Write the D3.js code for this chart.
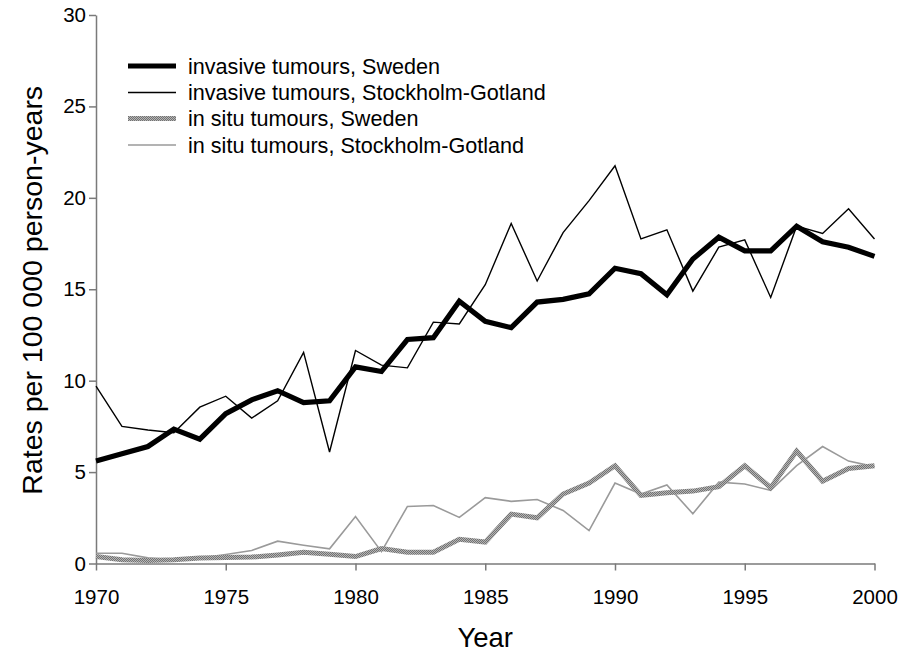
<!DOCTYPE html>
<html>
<head>
<meta charset="utf-8">
<script src="https://cdn.jsdelivr.net/npm/d3@7/dist/d3.min.js"></script>
<style>
  html, body { margin: 0; padding: 0; background: #fff; }
  svg { display: block; font-family: "Liberation Sans", Arial, sans-serif; }
</style>
</head>
<body>
<svg id="chart" width="901" height="656"></svg>
<script>
// Incidence rates per 100 000 person-years, 1970–2000
const years = d3.range(1970, 2001);

const invasiveSweden = [5.6, 6.0, 6.4, 7.35, 6.8, 8.2, 8.95, 9.45, 8.8, 8.9,
  10.75, 10.5, 12.25, 12.35, 14.35, 13.25, 12.9, 14.3, 14.45, 14.75,
  16.15, 15.85, 14.7, 16.65, 17.85, 17.1, 17.1, 18.45, 17.6, 17.3, 16.8];

const invasiveStockholm = [9.7, 7.5, 7.3, 7.15, 8.55, 9.15, 7.95, 8.9, 11.55, 6.1,
  11.65, 10.85, 10.7, 13.2, 13.1, 15.25, 18.6, 15.45, 18.1, 19.85,
  21.75, 17.75, 18.25, 14.9, 17.3, 17.7, 14.55, 18.45, 18.05, 19.4, 17.75];

const inSituSweden = [0.38, 0.2, 0.16, 0.2, 0.3, 0.33, 0.35, 0.47, 0.62, 0.5,
  0.38, 0.82, 0.62, 0.62, 1.32, 1.17, 2.7, 2.5, 3.8, 4.4,
  5.35, 3.72, 3.87, 3.96, 4.2, 5.35, 4.15, 6.15, 4.5, 5.2, 5.35];

const inSituStockholm = [0.56, 0.56, 0.31, 0.2, 0.3, 0.49, 0.71, 1.22, 1.0, 0.8,
  2.57, 0.65, 3.12, 3.17, 2.52, 3.6, 3.4, 3.5, 2.9, 1.8,
  4.4, 3.8, 4.3, 2.72, 4.45, 4.35, 4.0, 5.35, 6.4, 5.6, 5.3];

const xTicks = [1970, 1975, 1980, 1985, 1990, 1995, 2000];
const yTicks = [0, 5, 10, 15, 20, 25, 30];

const seriesNames = [
  "invasive tumours, Sweden",
  "invasive tumours, Stockholm-Gotland",
  "in situ tumours, Sweden",
  "in situ tumours, Stockholm-Gotland"
];

const svg = d3.select("#chart");

// checkered grey used for the in situ (Sweden) stroke
const defs = svg.append("defs");
const pat = defs.append("pattern")
  .attr("id", "checker").attr("patternUnits", "userSpaceOnUse")
  .attr("width", 2).attr("height", 2);
pat.append("rect").attr("width", 2).attr("height", 2).attr("fill", "#b5b5b5");
pat.append("rect").attr("x", 0).attr("y", 0).attr("width", 1).attr("height", 1).attr("fill", "#727272");
pat.append("rect").attr("x", 1).attr("y", 1).attr("width", 1).attr("height", 1).attr("fill", "#727272");

const x = d3.scaleLinear().domain([1970, 2000]).range([96, 874.5]);
const y = d3.scaleLinear().domain([0, 30]).range([563.5, 15]);

const axisColor = "#7a7a7a";
const font = "Liberation Sans, Arial, sans-serif";

// x axis
const gx = svg.append("g").attr("transform", `translate(0,${y(0)})`)
  .call(d3.axisBottom(x).tickValues(xTicks).tickFormat(d3.format("d"))
    .tickSizeInner(7).tickSizeOuter(0).tickPadding(19));
gx.select(".domain").attr("stroke", axisColor).attr("stroke-width", 1.5);
gx.selectAll(".tick line").attr("stroke", axisColor).attr("stroke-width", 1.5);
gx.selectAll(".tick text").attr("fill", "#000").attr("font-size", 20.5)
  .attr("font-family", font);

// y axis
const gy = svg.append("g").attr("transform", `translate(${x(1970)},0)`)
  .call(d3.axisLeft(y).tickValues(yTicks).tickFormat(d3.format("d"))
    .tickSizeInner(7).tickSizeOuter(0).tickPadding(3));
gy.select(".domain").attr("stroke", axisColor).attr("stroke-width", 1.5);
gy.selectAll(".tick line").attr("stroke", axisColor).attr("stroke-width", 1.5);
gy.selectAll(".tick text").attr("fill", "#000").attr("font-size", 20.5)
  .attr("font-family", font);

// axis titles
svg.append("text").attr("x", (x(1970) + x(2000)) / 2).attr("y", 647)
  .attr("text-anchor", "middle").attr("font-size", 27.5).text("Year");
svg.append("text")
  .attr("transform", `translate(42,${(y(0) + y(30)) / 2 + 1}) rotate(-90)`)
  .attr("text-anchor", "middle").attr("font-size", 28.5)
  .text("Rates per 100 000 person-years");

const line = d3.line().x((d, i) => x(years[i])).y(d => y(d));

const styles = [
  { data: invasiveSweden,    stroke: "#000",          width: 5.2 },
  { data: invasiveStockholm, stroke: "#000",          width: 1.4 },
  { data: inSituSweden,      stroke: "url(#checker)", width: 5 },
  { data: inSituStockholm,   stroke: "#9a9a9a",       width: 1.6 }
];

// in situ drawn first, invasive on top
[3, 2, 1, 0].forEach(k => {
  const s = styles[k];
  svg.append("path").datum(s.data)
    .attr("fill", "none").attr("stroke", s.stroke)
    .attr("stroke-width", s.width).attr("stroke-linejoin", "miter")
    .attr("d", line);
});

// legend
const legend = svg.append("g");
const rowY = [66, 92.5, 118.5, 145];
seriesNames.forEach((name, k) => {
  const s = styles[k];
  legend.append("line").attr("x1", 128).attr("x2", 176)
    .attr("y1", rowY[k]).attr("y2", rowY[k])
    .attr("stroke", s.stroke).attr("stroke-width", k === 3 ? 1.4 : s.width);
  legend.append("text").attr("x", 188).attr("y", rowY[k] + 7.5)
    .attr("font-size", 21.6).attr("fill", "#000").text(name);
});
</script>
</body>
</html>
